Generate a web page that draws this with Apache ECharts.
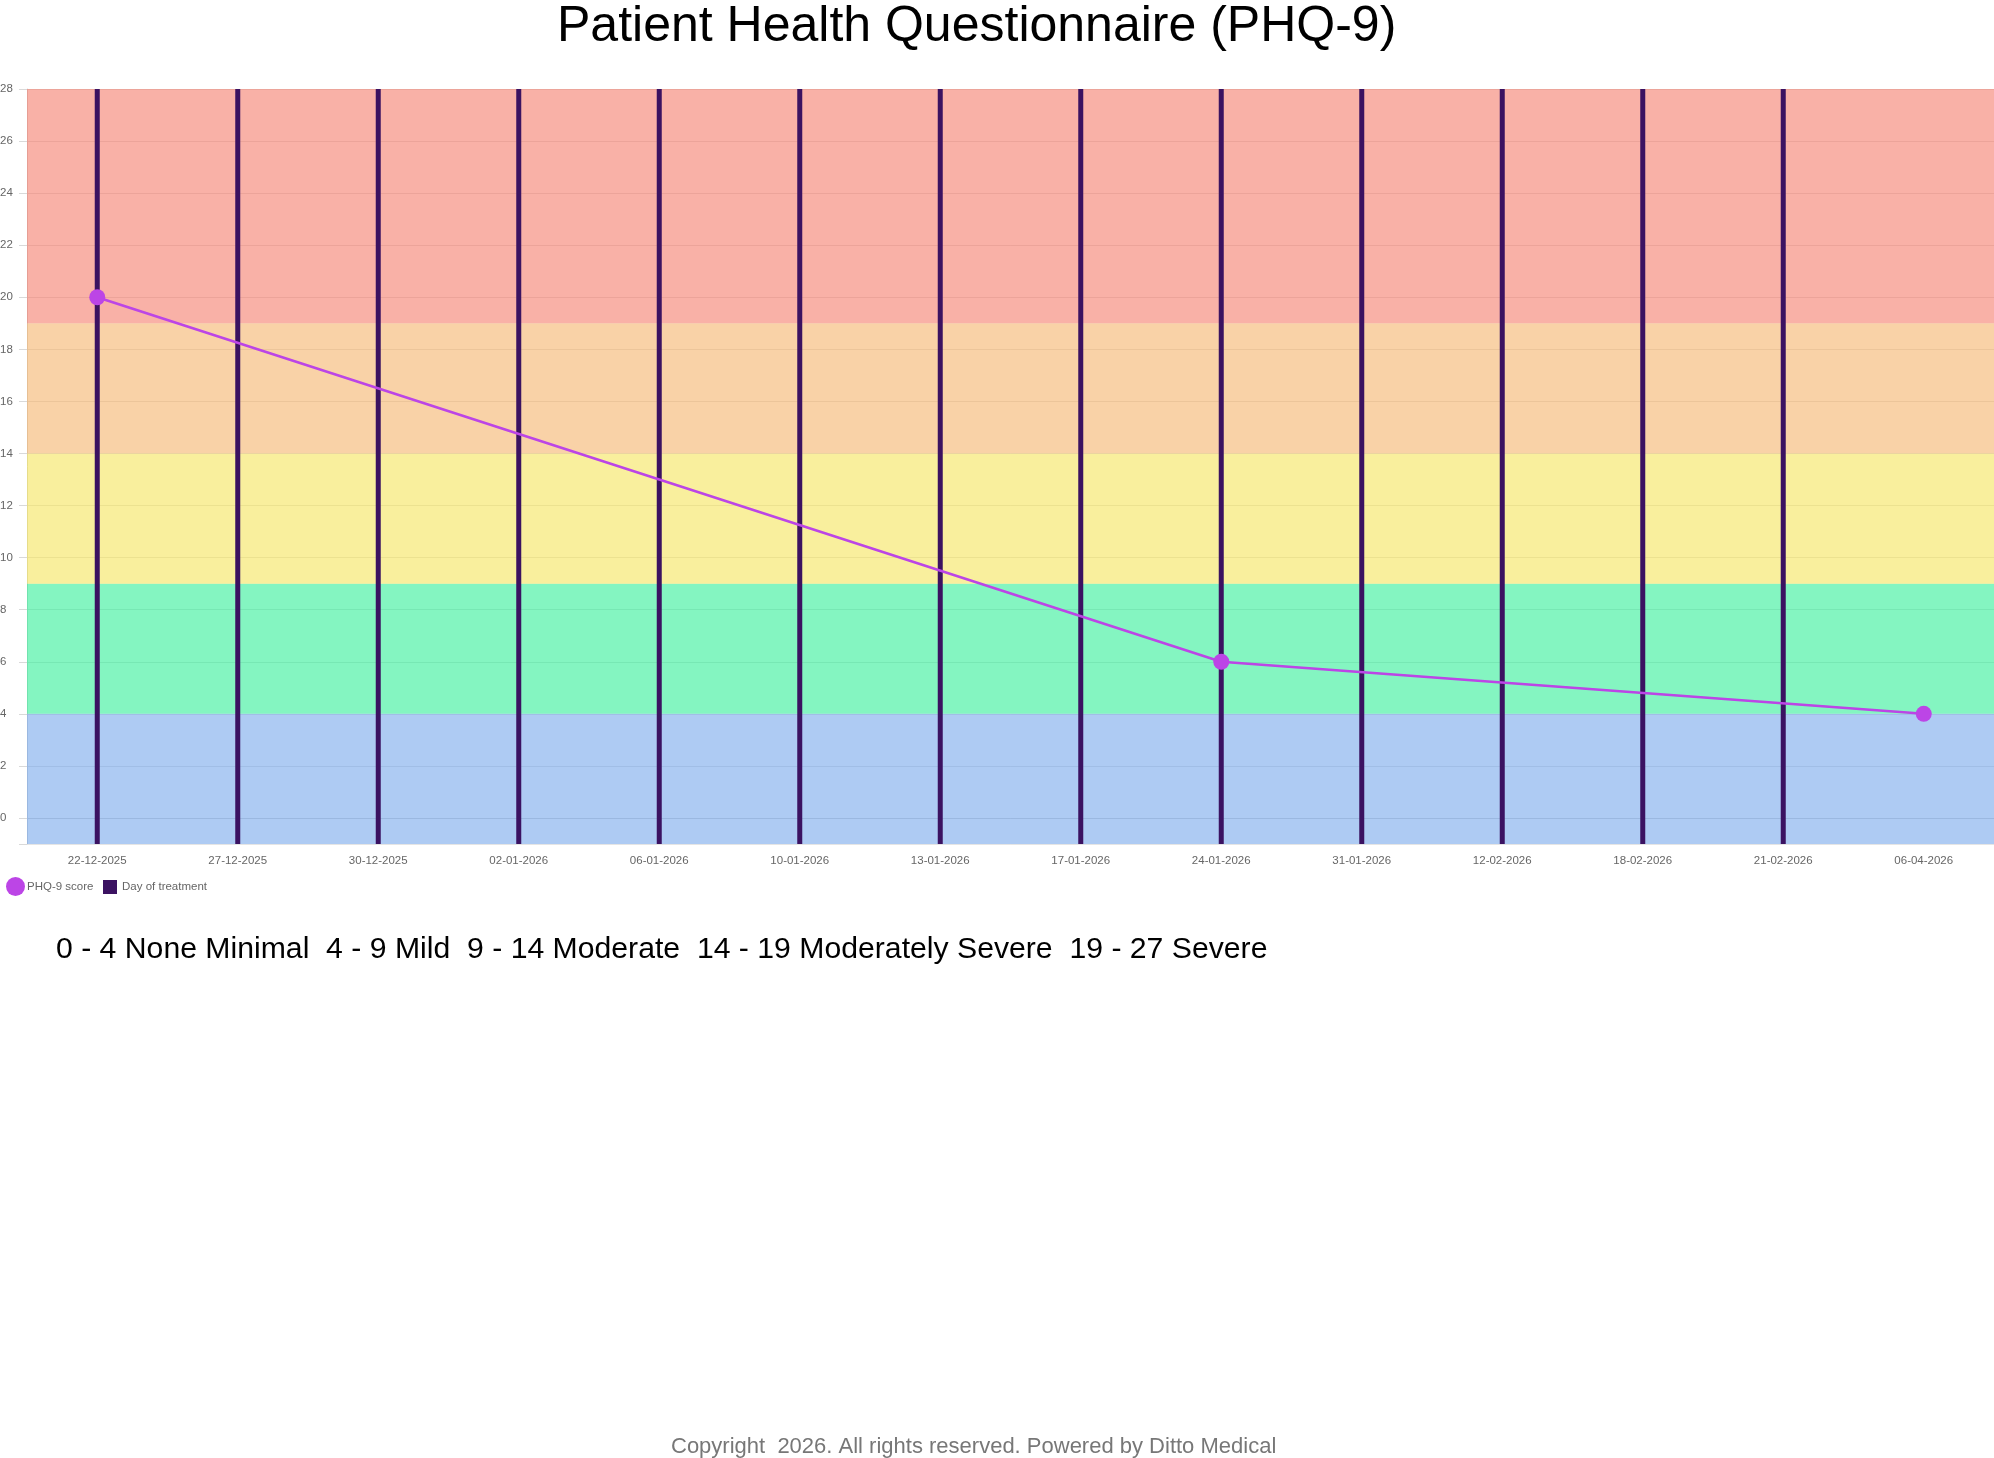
<!DOCTYPE html>
<html>
<head>
<meta charset="utf-8">
<script src="https://cdn.jsdelivr.net/npm/echarts@6/dist/echarts.min.js"></script>
<style>
html,body{margin:0;padding:0;background:#fff;}
#chart{width:1994px;height:1458px;}
</style>
</head>
<body>
<div id="chart"></div>
<script>
// ---- data ----
const categories = ['22-12-2025','27-12-2025','30-12-2025','02-01-2026','06-01-2026','10-01-2026','13-01-2026','17-01-2026','24-01-2026','31-01-2026','12-02-2026','18-02-2026','21-02-2026','06-04-2026'];
const phqScores = [20, null, null, null, null, null, null, null, 6, null, null, null, null, 4];
const treatmentDays = [1,1,1,1,1,1,1,1,1,1,1,1,1,null];
const yTickValues = [0,2,4,6,8,10,12,14,16,18,20,22,24,26,28];
const bandRanges = [[0,4],[4,9],[9,14],[14,19],[19,27]];
const bandNames = ['None Minimal','Mild','Moderate','Moderately Severe','Severe'];
const bandColors = ['rgba(93,151,231,0.5)','rgba(9,235,131,0.5)','rgba(243,223,59,0.5)','rgba(243,165,79,0.5)','rgba(243,99,79,0.5)'];
const yMin = -1, yMax = 28;

const FONT = 'Liberation Sans, Arial, Helvetica, sans-serif';
const chart = echarts.init(document.getElementById('chart'), null, {renderer:'canvas'});

const bandAreas = bandRanges.map((r, i) => {
  const lo = i === 0 ? yMin : r[0];
  const hi = i === bandRanges.length - 1 ? yMax : r[1];
  return [{yAxis: lo, itemStyle: {color: bandColors[i]}}, {yAxis: hi}];
});

const bandText = bandRanges.map((r, i) => r[0] + ' - ' + r[1] + ' ' + bandNames[i]).join('  ');

chart.setOption({
  animation: false,
  title: {
    text: 'Patient Health Questionnaire (PHQ-9)',
    left: 557, top: 2, padding: 0,
    textStyle: {fontFamily: FONT, fontSize: 50, fontWeight: 'normal', color: '#000'}
  },
  legend: [
    {data: [{name: 'PHQ-9 score', icon: 'circle'}], left: 6, top: 877, padding: 0,
     itemWidth: 19, itemHeight: 19, itemGap: 0,
     textStyle: {fontFamily: FONT, fontSize: 11.5, color: '#666', padding: [0,0,0,-3]}},
    {data: [{name: 'Day of treatment', icon: 'rect'}], left: 103, top: 880, padding: 0,
     itemWidth: 14, itemHeight: 14, itemGap: 0,
     textStyle: {fontFamily: FONT, fontSize: 11.5, color: '#666'}}
  ],
  grid: {left: 27, right: 0, top: 89, bottom: 614, containLabel: false, outerBoundsMode: 'none'},
  xAxis: {
    type: 'category', data: categories, boundaryGap: true,
    axisLine: {show: true, lineStyle: {color: '#d9d9d9', width: 1}},
    axisTick: {show: false},
    axisLabel: {interval: 0, margin: 11, fontFamily: FONT, fontSize: 11.5, color: '#666'},
    splitLine: {show: false}
  },
  yAxis: [
    {
      type: 'value', min: yMin, max: yMax,
      axisLine: {show: true, lineStyle: {color: '#d9d9d9'}},
      axisTick: {show: true, length: 8, lineStyle: {color: '#d9d9d9'}, customValues: [yMin].concat(yTickValues)},
      axisLabel: {customValues: yTickValues, align: 'left', margin: 27, fontFamily: FONT, fontSize: 11.5, color: '#666'},
      splitLine: {show: true, lineStyle: {color: 'rgba(0,0,0,0.1)', width: 1}}
    },
    {type: 'value', min: 0, max: 1, show: false, splitLine: {show: false}}
  ],
  series: [
    {
      name: 'PHQ-9 score', type: 'line', data: phqScores, connectNulls: true, z: 4,
      symbol: 'circle', symbolSize: 16, showAllSymbol: true,
      lineStyle: {color: '#bc45e6', width: 2.5},
      itemStyle: {color: '#bc45e6', borderWidth: 0},
      markArea: {silent: true, z: 1, data: bandAreas}
    },
    {
      name: 'Day of treatment', type: 'bar', data: treatmentDays, yAxisIndex: 1, z: 3,
      barWidth: 5, itemStyle: {color: '#3b1261', borderWidth: 0}
    }
  ],
  graphic: [
    {type: 'text', left: 56, top: 935, silent: true,
     style: {text: bandText, font: 'normal 30.2px ' + FONT, fill: '#000'}},
    {type: 'text', left: 671, top: 1436, silent: true,
     style: {text: 'Copyright  2026. All rights reserved. Powered by Ditto Medical', font: 'normal 22px ' + FONT, fill: '#777'}}
  ]
});
</script>
</body>
</html>
